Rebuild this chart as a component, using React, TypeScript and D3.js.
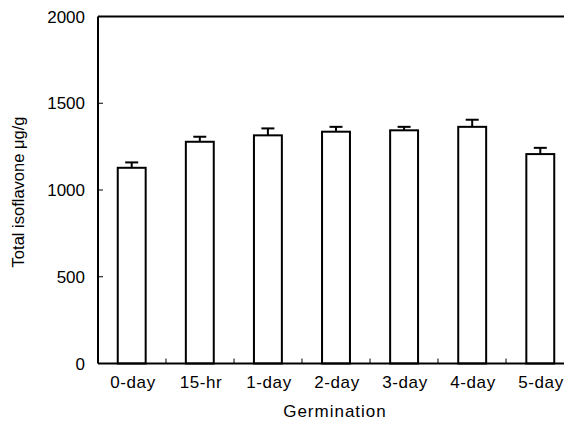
import React, { useEffect, useRef } from 'react';
import * as d3 from 'd3';

const categories = ['0-day', '15-hr', '1-day', '2-day', '3-day', '4-day', '5-day'];
const values = [1128, 1278, 1315, 1336, 1344, 1364, 1207];
const errors = [31, 29, 40, 28, 20, 41, 36];
const yTicks = [0, 500, 1000, 1500, 2000];

const width = 572;
const height = 438;

const App: React.FC = () => {
  const svgRef = useRef<SVGSVGElement>(null);

  useEffect(() => {
    if (!svgRef.current) return;
    const svg = d3.select(svgRef.current);
    svg.selectAll('*').remove();

    const margin = { top: 16.5, right: -2, bottom: 74.5, left: 98 };
    const innerWidth = width - margin.left - margin.right;
    const innerHeight = height - margin.top - margin.bottom;
    const font = '"Liberation Sans", Arial, sans-serif';

    const g = svg.append('g').attr('transform', `translate(${margin.left},${margin.top})`);

    const x = d3.scaleBand<string>().domain(categories).range([0, innerWidth]).paddingInner(0.59).paddingOuter(0.29);
    const band = d3.scaleBand<string>().domain(categories).range([0, innerWidth]);
    const y = d3.scaleLinear().domain([0, 2000]).range([innerHeight, 0]);

    // bars
    g.selectAll('rect.bar')
      .data(categories)
      .enter()
      .append('rect')
      .attr('x', d => x(d)!)
      .attr('y', (d, i) => y(values[i]))
      .attr('width', x.bandwidth())
      .attr('height', (d, i) => innerHeight - y(values[i]))
      .attr('fill', '#fff')
      .attr('stroke', '#000')
      .attr('stroke-width', 2);

    // error bars
    const capW = 13;
    categories.forEach((c, i) => {
      const cx = x(c)! + x.bandwidth() / 2;
      g.append('line')
        .attr('x1', cx).attr('x2', cx)
        .attr('y1', y(values[i])).attr('y2', y(values[i] + errors[i]))
        .attr('stroke', '#000').attr('stroke-width', 2);
      g.append('line')
        .attr('x1', cx - capW / 2).attr('x2', cx + capW / 2)
        .attr('y1', y(values[i] + errors[i])).attr('y2', y(values[i] + errors[i]))
        .attr('stroke', '#000').attr('stroke-width', 2);
    });

    // frame: left, top, bottom
    g.append('line').attr('x1', 0).attr('x2', 0).attr('y1', 0).attr('y2', innerHeight)
      .attr('stroke', '#000').attr('stroke-width', 2);
    g.append('line').attr('x1', 0).attr('x2', innerWidth).attr('y1', 0).attr('y2', 0)
      .attr('stroke', '#000').attr('stroke-width', 2);
    g.append('line').attr('x1', 0).attr('x2', innerWidth).attr('y1', innerHeight).attr('y2', innerHeight)
      .attr('stroke', '#000').attr('stroke-width', 2);

    // y ticks (inward)
    yTicks.forEach(t => {
      g.append('line').attr('x1', 0).attr('x2', 5).attr('y1', y(t)).attr('y2', y(t))
        .attr('stroke', '#000').attr('stroke-width', 1);
      g.append('text')
        .attr('x', -13).attr('y', y(t)).attr('dy', '0.36em')
        .attr('text-anchor', 'end')
        .attr('font-family', font).attr('font-size', 17)
        .text(t);
    });

    // x ticks at band boundaries (inward)
    categories.slice(1).forEach(c => {
      g.append('line').attr('x1', band(c)!).attr('x2', band(c)!)
        .attr('y1', innerHeight).attr('y2', innerHeight - 5)
        .attr('stroke', '#000').attr('stroke-width', 1);
    });

    // x labels
    categories.forEach(c => {
      g.append('text')
        .attr('x', band(c)! + band.bandwidth() / 2 + 1)
        .attr('y', innerHeight + 24)
        .attr('text-anchor', 'middle')
        .attr('font-family', font).attr('font-size', 17)
        .attr('letter-spacing', 0.6)
        .text(c);
    });

    // axis titles
    svg.append('text')
      .attr('x', 335).attr('y', 417)
      .attr('text-anchor', 'middle')
      .attr('font-family', font).attr('font-size', 17)
      .attr('letter-spacing', 1)
      .text('Germination');

    svg.append('text')
      .attr('transform', `translate(24,192) rotate(-90)`)
      .attr('text-anchor', 'middle')
      .attr('font-family', font).attr('font-size', 16.5)
      .text('Total isoflavone μg/g');
  }, []);

  return <svg ref={svgRef} width={width} height={height} style={{ display: 'block', margin: '-8px' }} />;
};

export default App;
